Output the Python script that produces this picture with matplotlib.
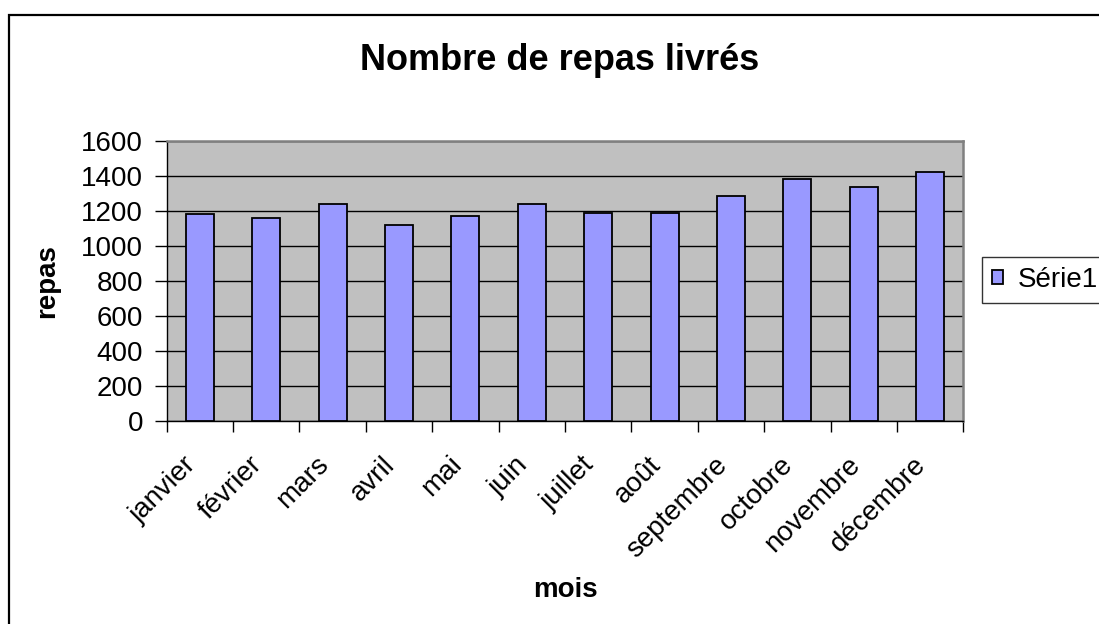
import matplotlib
matplotlib.use("Agg")
import matplotlib.pyplot as plt
from matplotlib.patches import Rectangle
from matplotlib.transforms import ScaledTranslation

months = ["janvier", "février", "mars", "avril", "mai", "juin", "juillet",
          "août", "septembre", "octobre", "novembre", "décembre"]
values = [1180, 1160, 1237, 1120, 1170, 1237, 1190, 1190, 1287, 1383, 1336, 1423]
series_name = "Série1"
yticks = [0, 200, 400, 600, 800, 1000, 1200, 1400, 1600]

plt.rcParams['font.family'] = ['Liberation Sans', 'DejaVu Sans']

W, H = 1099, 624
fig = plt.figure(figsize=(W / 100, H / 100), dpi=100)
fig.patch.set_facecolor('white')

# outer chart border (right and bottom edges lie outside the picture)
top = 1 - 14.5 / H
fig.add_artist(Rectangle((8.5 / W, -0.2), 1.2, top + 0.2,
                         transform=fig.transFigure, fill=False,
                         edgecolor='black', linewidth=1.6, clip_on=False))

L, R, T, B = 166.7, 963.3, 141, 420.7
ax = fig.add_axes([L / W, 1 - B / H, (R - L) / W, (B - T) / H])
ax.set_facecolor('#C0C0C0')

x = list(range(len(months)))
bars = ax.bar(x, values, width=0.42, color='#9999FF', edgecolor='black',
              linewidth=1.3, zorder=3, label=series_name)

ax.set_xlim(-0.5, len(months) - 0.5)
ax.set_ylim(0, 1600)
ax.set_yticks(yticks)
ax.set_yticklabels([str(v) for v in yticks], fontsize=20)
ax.yaxis.grid(True, color='black', linewidth=1.0, zorder=1)
ax.set_axisbelow(True)

ax.set_xticks([i - 0.5 for i in range(len(months) + 1)])
ax.set_xticklabels([])
ax.tick_params(axis='x', which='major', length=8, width=1, direction='out')
ax.tick_params(axis='y', length=9, width=1, direction='out', pad=8)

# category labels, rotated 45 degrees
off = ScaledTranslation(-17 / 100, -31 / 100, fig.dpi_scale_trans)
for i, m in enumerate(months):
    ax.text(i, 0, m, transform=ax.get_xaxis_transform() + off,
            rotation=45, ha='right', va='top', rotation_mode='anchor',
            fontsize=20, clip_on=False)

for side in ['top', 'right']:
    ax.spines[side].set_color('#808080')
    ax.spines[side].set_linewidth(1.8)
for side in ['left', 'bottom']:
    ax.spines[side].set_color('black')
    ax.spines[side].set_linewidth(1.0)

fig.text(560 / W, 1 - 61 / H, "Nombre de repas livrés", fontsize=26,
         fontweight='bold', ha='center', va='center')
fig.text(47 / W, 1 - 281 / H, "repas", fontsize=20, fontweight='bold',
         rotation=90, ha='center', va='center')
fig.text(565 / W, 1 - 590 / H, "mois", fontsize=20, fontweight='bold',
         ha='center', va='center')

leg = fig.legend(handles=[bars], labels=[series_name], loc='center left',
                 bbox_to_anchor=(982 / W, 1 - 280 / H), fontsize=20,
                 frameon=True, fancybox=False, edgecolor='black',
                 handlelength=0.42, handleheight=0.42, handletextpad=0.5,
                 borderpad=0.35, borderaxespad=0)
leg.get_frame().set_linewidth(1.0)

fig.savefig("out.png", dpi=100)
